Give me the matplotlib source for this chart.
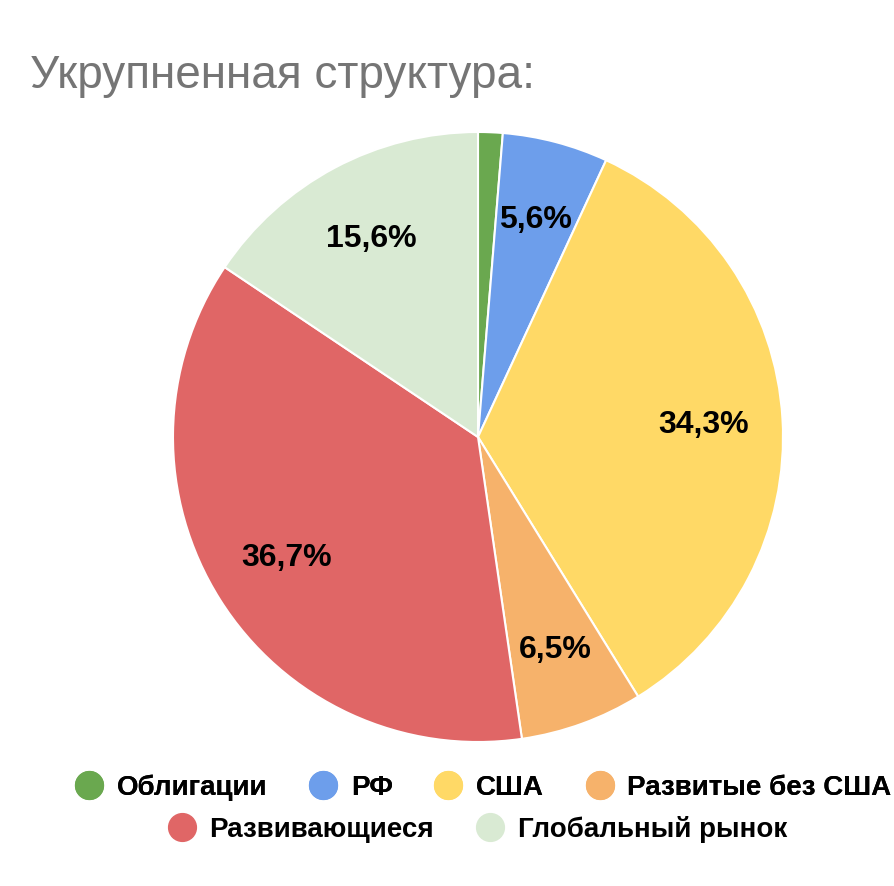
import matplotlib
matplotlib.use("Agg")
import matplotlib.pyplot as plt
from matplotlib.lines import Line2D

categories = ["Облигации", "РФ", "США", "Развитые без США", "Развивающиеся", "Глобальный рынок"]
values = [1.3, 5.6, 34.3, 6.5, 36.7, 15.6]
colors = ["#6aa84f", "#6d9eeb", "#ffd966", "#f6b26b", "#e06666", "#d9ead3"]
title = "Укрупненная структура:"

W, H = 895, 887
fig = plt.figure(figsize=(W / 100, H / 100), dpi=100)
fig.patch.set_facecolor("white")

cx, cy, r = 478, 438, 305
ax = fig.add_axes([(cx - r) / W, (H - cy - r) / H, 2 * r / W, 2 * r / H])

def fmt(p):
    if p < 3:
        return ""
    return f"{p:.1f}".replace(".", ",") + "%"

wedges, texts, autotexts = ax.pie(
    values, colors=colors, startangle=90, counterclock=False,
    autopct=fmt, pctdistance=0.74,
    wedgeprops=dict(edgecolor="white", linewidth=1.5),
    textprops=dict(fontsize=23, fontweight="bold", color="#000000",
                   family=["Liberation Sans", "DejaVu Sans"]))
ax.set_xlim(-1, 1)
ax.set_ylim(-1, 1)
ax.set_aspect("equal")
ax.axis("off")

fig.text(30 / W, 1 - 76 / H, title, fontsize=33, color="#757575",
         family=["Liberation Sans", "DejaVu Sans"], va="center", ha="left")

def handles(idx):
    return [Line2D([], [], marker="o", linestyle="none", markersize=20,
                   markerfacecolor=colors[i], markeredgecolor=colors[i]) for i in idx]

legfont = dict(family=["Liberation Sans", "DejaVu Sans"], weight="bold", size=20)
leg1 = fig.legend(handles(range(4)), categories[:4], loc="center",
                  bbox_to_anchor=(482 / W, 1 - 788 / H), ncol=4, frameon=False,
                  prop=legfont, handletextpad=0.4, columnspacing=1.4, handlelength=1.2)
leg2 = fig.legend(handles(range(4, 6)), categories[4:], loc="center",
                  bbox_to_anchor=(476 / W, 1 - 830 / H), ncol=2, frameon=False,
                  prop=legfont, handletextpad=0.4, columnspacing=1.4, handlelength=1.2)
fig.add_artist(leg1)

fig.savefig("out.png", dpi=100, facecolor="white")
